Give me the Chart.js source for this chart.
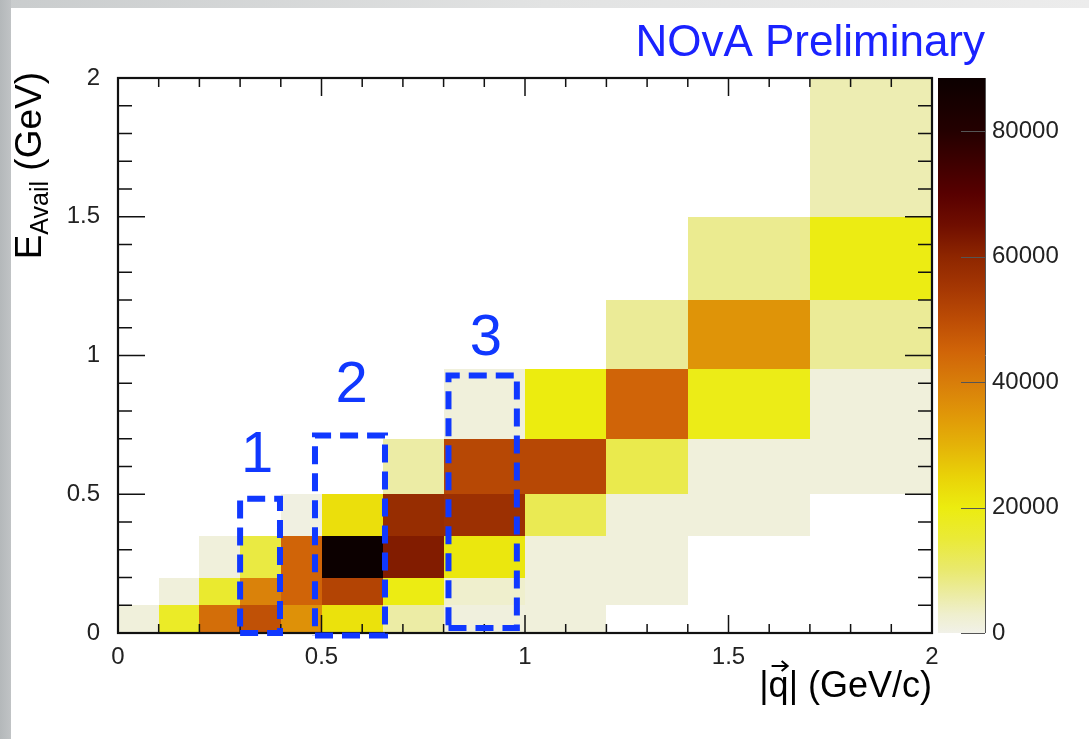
<!DOCTYPE html>
<html>
<head>
<meta charset="utf-8">
<title>E_Avail vs |q|</title>
<script src="https://cdn.jsdelivr.net/npm/chart.js@4.4.0/dist/chart.umd.min.js"></script>
<style>
    html, body { margin: 0; padding: 0; background: #fff; }
    #wrap { position: relative; width: 1089px; height: 739px; background: #fff; overflow: hidden; }
    #edge-top { position: absolute; left: 0; top: 0; width: 1089px; height: 8px;
        background: linear-gradient(to right, #c9cccd, #e2e3e3 50%, #ececec); }
    #edge-left { position: absolute; left: 0; top: 0; width: 11px; height: 739px;
        background: linear-gradient(to right, #b4b8ba, #c0c3c5); }
    #chart { position: absolute; left: 0; top: 0; }
</style>
</head>
<body>
<div id="wrap">
    <div id="edge-top"></div>
    <div id="edge-left"></div>
    <canvas id="chart" width="1089" height="739"></canvas>
</div>
<script>
// Bin edges of the 2D histogram
var qEdges = [0, 0.1, 0.2, 0.3, 0.4, 0.5, 0.65, 0.8, 1.0, 1.2, 1.4, 1.7, 2.0];
var eEdges = [0, 0.1, 0.2, 0.35, 0.5, 0.7, 0.95, 1.2, 1.5, 2.0];

// Events per bin: one row per E_avail bin (lowest first), one column per |q| bin
var counts = [
    [1500, 17000, 43000, 49000, 36000, 22000, 6000, 1200, 1500, 0, 0, 0],
    [0, 1500, 16000, 39000, 45000, 52000, 19500, 3000, 1500, 1500, 0, 0],
    [0, 0, 1500, 14000, 45000, 88500, 62000, 21000, 1500, 1500, 0, 0],
    [0, 0, 0, 0, 800, 22500, 58000, 57000, 12500, 1500, 1500, 0],
    [0, 0, 0, 0, 0, 0, 6000, 51000, 51000, 13000, 1500, 1500],
    [0, 0, 0, 0, 0, 0, 0, 1500, 20000, 45000, 19000, 1500],
    [0, 0, 0, 0, 0, 0, 0, 0, 0, 7000, 35500, 7000],
    [0, 0, 0, 0, 0, 0, 0, 0, 0, 0, 7500, 19500],
    [0, 0, 0, 0, 0, 0, 0, 0, 0, 0, 0, 5000]
];

var axisTicks = [0, 0.5, 1, 1.5, 2];
var zMax = 88500;
var zTicks = [0, 20000, 40000, 60000, 80000];

// The three |q| slices marked on the plot
var sliceNames = ['1', '2', '3'];
var sliceQLow = [0.30, 0.484, 0.812];
var sliceQHigh = [0.398, 0.656, 0.980];
var sliceELow = [0, -0.009, 0.018];
var sliceEHigh = [0.484, 0.712, 0.928];
var sliceLabelQ = [0.342, 0.574, 0.904];
var sliceLabelE = [0.639, 0.891, 1.06];

// Colour palette (z value -> rgb)
var paletteStops = [0, 3000, 6000, 10000, 15000, 20000, 25000, 30000, 35000, 40000,
    45000, 50000, 55000, 60000, 65000, 70000, 75000, 80000, 88500];
var paletteColors = [
    [241, 241, 232], [239, 239, 205], [236, 236, 165], [233, 233, 110], [234, 234, 55],
    [236, 236, 15], [233, 210, 8], [228, 178, 8], [224, 150, 8], [216, 125, 10],
    [208, 100, 8], [188, 76, 5], [165, 55, 3], [142, 38, 0], [112, 14, 0],
    [88, 0, 0], [62, 0, 0], [36, 0, 0], [12, 0, 0]
];

var FONT = "'Liberation Sans', Arial, Helvetica, sans-serif";
var BLUE = '#1038ff';

function paletteColor(v) {
    var n = paletteStops.length;
    var c = paletteColors[n - 1];
    for (var i = 0; i < n - 1; i++) {
        if (v <= paletteStops[i + 1]) {
            var t = (v - paletteStops[i]) / (paletteStops[i + 1] - paletteStops[i]);
            var a = paletteColors[i], b = paletteColors[i + 1];
            c = [a[0] + (b[0] - a[0]) * t, a[1] + (b[1] - a[1]) * t, a[2] + (b[2] - a[2]) * t];
            break;
        }
    }
    return 'rgb(' + Math.round(c[0]) + ',' + Math.round(c[1]) + ',' + Math.round(c[2]) + ')';
}

// Heatmap cells, frame, tick marks and palette bar
var histPlugin = {
    id: 'hist2d',
    beforeDatasetsDraw: function (chart) {
        var ctx = chart.ctx, xs = chart.scales.x, ys = chart.scales.y, zs = chart.scales.z;
        var area = chart.chartArea;
        ctx.save();
        for (var r = 0; r < counts.length; r++) {
            for (var c = 0; c < counts[r].length; c++) {
                var v = counts[r][c];
                if (v <= 0) continue;
                var x0 = Math.round(xs.getPixelForValue(qEdges[c]));
                var x1 = Math.round(xs.getPixelForValue(qEdges[c + 1]));
                var y0 = Math.round(ys.getPixelForValue(eEdges[r]));
                var y1 = Math.round(ys.getPixelForValue(eEdges[r + 1]));
                ctx.fillStyle = paletteColor(v);
                ctx.fillRect(x0, y1, x1 - x0, y0 - y1);
            }
        }

        // tick marks on all four sides, pointing inwards
        ctx.strokeStyle = '#111';
        ctx.lineWidth = 1.5;
        ctx.beginPath();
        for (var i = 0; i <= 20; i++) {
            var major = i % 5 === 0;
            var px = xs.getPixelForValue(i / 10);
            var lx = major ? 18 : 9;
            ctx.moveTo(px, area.bottom); ctx.lineTo(px, area.bottom - lx);
            ctx.moveTo(px, area.top); ctx.lineTo(px, area.top + lx);
            var py = ys.getPixelForValue(i / 10);
            var ly = major ? 27 : 14;
            ctx.moveTo(area.left, py); ctx.lineTo(area.left + ly, py);
            ctx.moveTo(area.right, py); ctx.lineTo(area.right - ly, py);
        }
        ctx.stroke();
        ctx.lineWidth = 2.2;
        ctx.strokeRect(area.left, area.top, area.right - area.left, area.bottom - area.top);

        // palette bar
        var bx0 = area.right + 6, bx1 = area.right + 53;
        var top = zs.getPixelForValue(zMax), bot = zs.getPixelForValue(0);
        var grad = ctx.createLinearGradient(0, bot, 0, top);
        for (var k = 0; k < paletteStops.length; k++) {
            grad.addColorStop(paletteStops[k] / zMax, paletteColor(paletteStops[k]));
        }
        ctx.fillStyle = grad;
        ctx.fillRect(bx0, top, bx1 - bx0, bot - top);
        ctx.strokeStyle = '#555';
        ctx.lineWidth = 1;
        ctx.beginPath();
        ctx.moveTo(bx1 + 0.5, top); ctx.lineTo(bx1 + 0.5, bot);
        zTicks.forEach(function (t) {
            var p = Math.round(zs.getPixelForValue(t)) + 0.5;
            ctx.moveTo(bx1, p); ctx.lineTo(bx1 - 24, p);
        });
        ctx.stroke();
        ctx.restore();
    },
    afterDatasetsDraw: function (chart) {
        var ctx = chart.ctx, xs = chart.scales.x, ys = chart.scales.y;
        ctx.save();
        ctx.fillStyle = BLUE;
        ctx.font = '58px ' + FONT;
        ctx.textAlign = 'center';
        ctx.textBaseline = 'middle';
        sliceNames.forEach(function (name, i) {
            ctx.fillText(name, xs.getPixelForValue(sliceLabelQ[i]), ys.getPixelForValue(sliceLabelE[i]));
        });

        // label in the top right corner
        ctx.font = '44px ' + FONT;
        ctx.textAlign = 'right';
        ctx.textBaseline = 'alphabetic';
        ctx.fillStyle = '#1a22ff';
        ctx.fillText('NOvA Preliminary', 985, 56);

        // x axis title: |q| with a vector arrow over q
        ctx.fillStyle = '#000';
        ctx.strokeStyle = '#000';
        ctx.font = '36px ' + FONT;
        var xt = '|q| (GeV/c)';
        var xEnd = chart.chartArea.right;
        var xStart = xEnd - ctx.measureText(xt).width;
        ctx.fillText(xt, xEnd, 697);
        var qx0 = xStart + ctx.measureText('|').width;
        var qx1 = qx0 + ctx.measureText('q').width;
        ctx.lineWidth = 2;
        ctx.beginPath();
        ctx.moveTo(qx0 + 3, 666); ctx.lineTo(qx1 - 2, 666);
        ctx.moveTo(qx1 - 7, 661); ctx.lineTo(qx1 - 1, 666); ctx.lineTo(qx1 - 7, 671);
        ctx.stroke();

        // y axis title E_Avail (GeV), read upwards and ending near the top
        ctx.translate(41, 0);
        ctx.rotate(-Math.PI / 2);
        ctx.textAlign = 'left';
        ctx.font = '37px ' + FONT;
        var wE = ctx.measureText('E').width;
        var wG = ctx.measureText(' (GeV)').width;
        ctx.font = '25px ' + FONT;
        var wA = ctx.measureText('Avail').width;
        var start = -(72 + wE + wA + wG);
        ctx.font = '37px ' + FONT;
        ctx.fillText('E', start, 0);
        ctx.font = '25px ' + FONT;
        ctx.fillText('Avail', start + wE, 7);
        ctx.font = '37px ' + FONT;
        ctx.fillText(' (GeV)', start + wE + wA, 0);
        ctx.restore();
    }
};

var sliceDatasets = sliceNames.map(function (name, i) {
    return {
        label: 'slice ' + name,
        data: [
            { x: sliceQLow[i], y: sliceELow[i] },
            { x: sliceQHigh[i], y: sliceELow[i] },
            { x: sliceQHigh[i], y: sliceEHigh[i] },
            { x: sliceQLow[i], y: sliceEHigh[i] },
            { x: sliceQLow[i], y: sliceELow[i] }
        ],
        showLine: true,
        borderColor: BLUE,
        borderWidth: 6,
        borderDash: [18, 9],
        pointRadius: 0,
        fill: false,
        clip: false,
        xAxisID: 'x',
        yAxisID: 'y'
    };
});

function fixedTicks(values) {
    return function (axis) {
        axis.ticks = values.map(function (v) { return { value: v }; });
    };
}

var tickFont = { family: FONT, size: 24 };

var chart = new Chart(document.getElementById('chart').getContext('2d'), {
    type: 'scatter',
    data: { datasets: sliceDatasets },
    options: {
        responsive: false,
        animation: false,
        devicePixelRatio: 1,
        layout: { padding: { top: 78, left: 0, right: 0, bottom: 0 } },
        plugins: { legend: { display: false }, tooltip: { enabled: false } },
        scales: {
            x: {
                type: 'linear', position: 'bottom', min: 0, max: 2,
                grid: { display: false }, border: { display: false },
                afterBuildTicks: fixedTicks(axisTicks),
                afterFit: function (axis) { axis.height = 106; },
                ticks: { font: tickFont, color: '#222', padding: 2, maxRotation: 0, autoSkip: false,
                    callback: function (v) { return String(v); } }
            },
            y: {
                type: 'linear', position: 'left', min: 0, max: 2,
                grid: { display: false }, border: { display: false },
                afterBuildTicks: fixedTicks(axisTicks),
                afterFit: function (axis) { axis.width = 118; },
                ticks: { font: tickFont, color: '#222', padding: 10, autoSkip: false,
                    callback: function (v) { return String(v); } }
            },
            z: {
                type: 'linear', position: 'right', min: 0, max: zMax,
                grid: { display: false }, border: { display: false },
                afterBuildTicks: fixedTicks(zTicks),
                afterFit: function (axis) { axis.width = 157; },
                ticks: { font: { family: FONT, size: 24 }, color: '#222', padding: 52, autoSkip: false,
                    callback: function (v) { return String(v); } }
            }
        }
    },
    plugins: [histPlugin]
});
</script>
</body>
</html>
